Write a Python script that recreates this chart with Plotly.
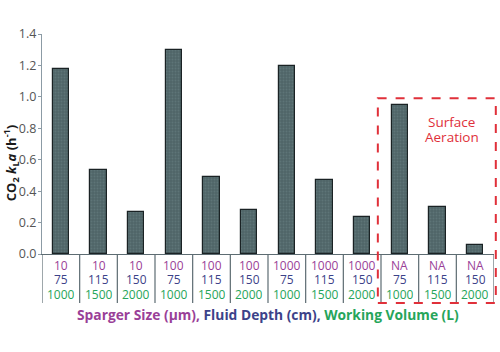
import plotly.graph_objects as go

sparger = ["10", "10", "10", "100", "100", "100", "1000", "1000", "1000", "NA", "NA", "NA"]
depth = ["75", "115", "150", "75", "115", "150", "75", "115", "150", "75", "115", "150"]
volume = ["1000", "1500", "2000", "1000", "1500", "2000", "1000", "1500", "2000", "1000", "1500", "2000"]
kla = [1.18, 0.535, 0.27, 1.30, 0.49, 0.28, 1.195, 0.47, 0.235, 0.95, 0.30, 0.06]
yticks = [0.0, 0.2, 0.4, 0.6, 0.8, 1.0, 1.2, 1.4]

PURPLE = "#9a3f98"
NAVY = "#3c4289"
GREEN = "#26a55a"
FONT = "Open Sans"

xs = list(range(len(kla)))

fig = go.Figure()
fig.add_trace(go.Bar(
    x=xs, y=kla, width=0.43,
    marker=dict(color="#4f6568",
                line=dict(color="#1a2224", width=1.2),
                pattern=dict(shape=".", fgcolor="#6d8386", bgcolor="#4f6568",
                             size=3, solidity=0.3)),
    showlegend=False,
))

fig.update_layout(
    width=500, height=352,
    margin=dict(l=42, r=6, t=34, b=98),
    plot_bgcolor="white", paper_bgcolor="white",
    font=dict(family=FONT, color="#555"),
    bargap=0,
)
fig.update_xaxes(range=[-0.5, len(kla) - 0.5], showticklabels=False, ticks="",
                 showline=True, linecolor="#5d6c72", linewidth=1.2,
                 showgrid=False, zeroline=False, fixedrange=True)
fig.update_yaxes(range=[0, 1.4], tickvals=yticks, ticktext=[f"{v:.1f}" for v in yticks],
                 ticks="outside", ticklen=3, tickcolor="#8c9ba5",
                 ticklabelstandoff=-1,
                 showline=True, linecolor="#8c9ba5", linewidth=1.2,
                 tickfont=dict(size=12.5, color="#555", family=FONT),
                 showgrid=False, zeroline=False)

# dividers between categories
for i in range(len(kla) + 1):
    fig.add_shape(type="line", xref="x", yref="paper",
                  x0=i - 0.5, x1=i - 0.5, y0=0, y1=-0.223,
                  line=dict(color="#5d6c72", width=1.2))

# three-row category labels
rows = [(sparger, PURPLE, -0.048), (depth, NAVY, -0.114), (volume, GREEN, -0.180)]
for labels, color, yy in rows:
    for i, t in enumerate(labels):
        fig.add_annotation(x=i, y=yy, xref="x", yref="paper", text=t, showarrow=False,
                           font=dict(size=12, color=color, family=FONT),
                           xanchor="center", yanchor="middle", height=14)

# x title
fig.add_annotation(
    x=0.5, y=-0.273, xref="paper", yref="paper", showarrow=False,
    xanchor="center", yanchor="middle",
    text=(f"<b><span style='color:{PURPLE}'>Sparger Size (µm),</span> "
          f"<span style='color:{NAVY}'>Fluid Depth (cm),</span> "
          f"<span style='color:{GREEN}'>Working Volume (L)</span></b>"),
    font=dict(size=13.8, family=FONT),
)

# y title
fig.add_annotation(
    x=-0.068, y=0.414, xref="paper", yref="paper", showarrow=False,
    xanchor="center", yanchor="middle", textangle=-90,
    text="<b>CO<sub>2</sub> <i>k</i><sub>L</sub><i>a</i> (h<sup>-1</sup>)</b>",
    font=dict(size=13, color="#1a1a1a", family=FONT),
)

# surface aeration box
fig.add_shape(type="rect", xref="paper", yref="paper",
              x0=0.743, x1=1.004, y0=-0.223, y1=0.708,
              line=dict(color="#e0303a", width=2, dash="dash"))
fig.add_annotation(x=0.907, y=0.6, xref="paper", yref="paper", showarrow=False,
                   text="Surface", font=dict(size=13.5, color="#e0303a", family=FONT),
                   xanchor="center", yanchor="middle")
fig.add_annotation(x=0.907, y=0.532, xref="paper", yref="paper", showarrow=False,
                   text="Aeration", font=dict(size=13.5, color="#e0303a", family=FONT),
                   xanchor="center", yanchor="middle")

fig.write_html("out.html")
